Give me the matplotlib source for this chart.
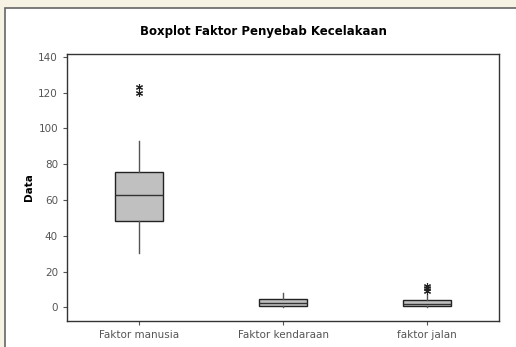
import matplotlib.pyplot as plt
from matplotlib.patches import Rectangle

# Five-number summaries of each accident factor, plus the outliers
labels = ["Faktor manusia", "Faktor kendaraan", "faktor jalan"]
whis_low = [30.5, 0, 0]
q1 = [48.5, 0.8, 0.8]
median = [62.5, 2.6, 1.8]
q3 = [75.5, 4.5, 4.0]
whis_high = [93, 7.8, 6.8]
outliers = [[120, 123], [], [9, 11, 12]]

stats = []
for i in range(len(labels)):
    stats.append(dict(label=labels[i], whislo=whis_low[i], q1=q1[i], med=median[i],
                      q3=q3[i], whishi=whis_high[i], fliers=outliers[i]))

fig = plt.figure(figsize=(5.16, 3.47), dpi=100, facecolor='#f6f2e4')
# white panel of the chart window, kept under the axes
fig.patches.append(Rectangle((5 / 516, -0.05), 1.0, 1 - 8 / 347 + 0.05, transform=fig.transFigure,
                             facecolor='white', edgecolor='#666666', linewidth=1.2, zorder=-5))

ax = fig.add_axes([67 / 516, 1 - 321 / 347, 432 / 516, 267 / 347])
ax.patch.set_alpha(0)
ax.bxp(stats, positions=[1, 2, 3], widths=0.33, patch_artist=True, showcaps=False,
       boxprops=dict(facecolor='#c0c0c0', edgecolor='#222222', linewidth=1.0),
       medianprops=dict(color='#333333', linewidth=1.0),
       whiskerprops=dict(color='#555555', linewidth=1.0),
       flierprops=dict(marker=(6, 2, 0), markersize=5, markeredgecolor='#222222',
                       markeredgewidth=0.8, linestyle='none'))

ax.set_xlim(0.5, 3.5)
ax.set_ylim(-7.6, 141.5)
ax.set_yticks(range(0, 141, 20))
ax.tick_params(colors='#555555', labelsize=7.5, length=3, width=0.8)
for s in ax.spines.values():
    s.set_color('#333333')
    s.set_linewidth(1.0)

ax.set_ylabel("Data", fontsize=7.5, fontweight='bold', labelpad=3)
fig.text(263 / 516, 1 - 32 / 347, "Boxplot Faktor Penyebab Kecelakaan", ha='center', va='center',
         fontsize=8.5, fontweight='bold')

fig.savefig("out.png", dpi=100, facecolor=fig.get_facecolor())
